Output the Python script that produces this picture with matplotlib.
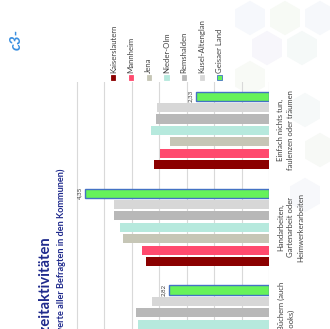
import numpy as np
import matplotlib.pyplot as plt
from matplotlib.patches import Rectangle, RegularPolygon

# data (mean ratings, scale starts at 1)
categories = ["Einfach nichts tun,\nfaulenzen oder träumen",
              "Handarbeiten,\nGartenarbeit oder\nHeimwerkerarbeiten",
              "Lesen von Büchern (auch\nE-Books)"]
towns = ["Kaiserslautern", "Mannheim", "Jena", "Nieder-Olm",
         "Remshalden", "Kusel-Altenglan", "Geisaer Land"]
kaiserslautern = [3.10, 3.23, np.nan]
mannheim = [2.98, 3.31, np.nan]
jena = [2.81, 3.65, np.nan]
nieder_olm = [3.15, 3.71, 3.38]
remshalden = [3.06, 3.82, 3.42]
kusel = [3.04, 3.82, 3.12]
geisaer = [2.33, 4.35, 2.82]
values = [kaiserslautern, mannheim, jena, nieder_olm, remshalden, kusel, geisaer]
colors = ["#8b0000", "#ff4a6e", "#c6c6b6", "#b6e9dd", "#b8b8b8", "#d7d7d7", "#66f25a"]

W, H = 330, 329
def fx(x):
    return x / W
def fy(y):
    return 1 - y / H

plt.rcParams['font.family'] = ['Lato', 'DejaVu Sans']
fig = plt.figure(figsize=(3.3, 3.29), dpi=100)

# faint hexagon background
for (hx, hy, c) in [(250, 18, "#f6f8fc"), (285, 18, "#f7faf5"), (320, 18, "#f6f8fb"),
                    (267, 48, "#f7f6fb"), (302, 48, "#f5f9f8"), (250, 78, "#f8faf6"),
                    (305, 110, "#f6f9f9"), (320, 150, "#f7f9f6"), (305, 195, "#f7f8fb")]:
    fig.patches.append(RegularPolygon((fx(hx), fy(hy)), 6, radius=0.05,
                                      transform=fig.transFigure, color=c, zorder=-5))

ax = fig.add_axes([fx(70), 0, fx(269) - fx(70), 1 - 82 / H])
ax.patch.set_alpha(0)

group_step = 8.5
bar_h = 0.8
for i, (town, vals, col) in enumerate(zip(towns, values, colors)):
    for c, v in enumerate(vals):
        if np.isnan(v):
            continue
        y = c * group_step + (6 - i)
        edge = "#4472c4" if town == "Geisaer Land" else col
        ax.barh(y, v - 1, left=1, height=bar_h, color=col, edgecolor=edge,
                linewidth=1.0 if town == "Geisaer Land" else 0, zorder=3)
        if town == "Geisaer Land":
            ax.annotate(f"{v:.2f}".replace(".", ","), xy=(v, y), xytext=(-2, 0),
                        textcoords="offset points", ha="right", va="center",
                        rotation=90, fontsize=4.5, color="#404040")

ax.set_xlim(4.62, 1)
ax.set_ylim(20.42, -1.25)
for g in np.arange(1, 5, 0.5):
    ax.axvline(g, color="#d9d9d9", linewidth=0.8, zorder=1)
for s in ax.spines.values():
    s.set_visible(False)
ax.set_xticks([])
ax.set_yticks([])

# category labels
for c, lab in enumerate(categories):
    yc = c * group_step + 3
    ax.annotate(lab, xy=(1, yc), xytext=(6, 0), textcoords="offset points",
                ha="left", va="center", rotation=90, fontsize=5.5,
                color="#404040", linespacing=1.45, multialignment="center",
                annotation_clip=False, zorder=5)

# legend
for i, (town, col) in enumerate(zip(towns, colors)):
    lx = 113.3 + 17.7 * i
    edge = "#4472c4" if town == "Geisaer Land" else col
    fig.patches.append(Rectangle((fx(lx - 2.2), fy(79.5)), fx(4.4), 4.4 / H,
                                 transform=fig.transFigure, facecolor=col,
                                 edgecolor=edge, linewidth=0.6))
    fig.text(fx(lx), fy(73), town, rotation=90, ha="center", va="bottom",
             fontsize=5.6, color="#404040")

# title and subtitle
fig.text(fx(45), fy(235), "Freizeitaktivitäten", rotation=90, ha="center",
         va="top", fontsize=10.6, fontweight="bold", color="#1f2a8c")
fig.text(fx(61), fy(168), "(Mittelwerte aller Befragten in den Kommunen)",
         rotation=90, ha="center", va="top", fontsize=6.6, fontweight="bold",
         color="#1f2a8c")

# logo
fig.text(fx(17), fy(40), "c3-", rotation=90, ha="center", va="center",
         fontsize=11, fontweight="bold", fontstyle="italic", color="#3a8fe0")

fig.savefig("out.png", dpi=100)
